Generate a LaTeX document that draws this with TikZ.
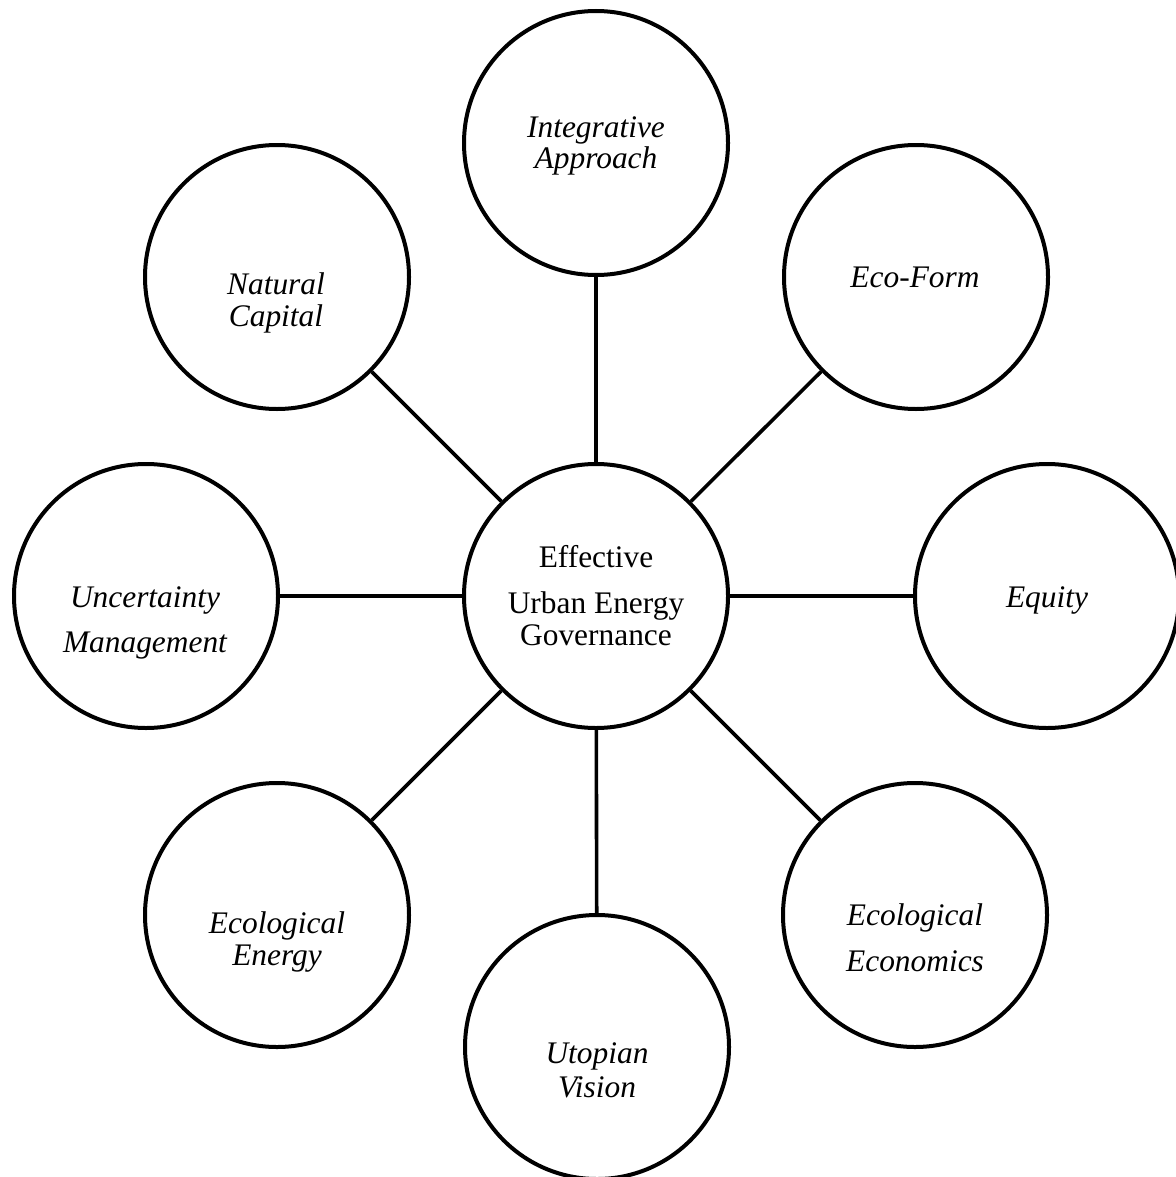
\documentclass[tikz,border=0pt]{standalone}
\usepackage{fontspec}
\setmainfont{Liberation Serif}
\tikzset{
  hub/.style={circle, draw, line width=2pt, minimum size=132pt, inner sep=0pt},
  lab/.style={anchor=base, inner sep=0pt, font=\fontsize{15.7pt}{16pt}\selectfont\itshape},
  mainlab/.style={anchor=base, inner sep=0pt, font=\fontsize{15.7pt}{16pt}\selectfont},
  link/.style={line width=1.8pt}
}
\newcommand{\twoline}[3][0pt]{\begin{tabular}[b]{@{}c@{}}#2\\[#1]#3\end{tabular}}
\begin{document}
\begin{tikzpicture}[x=0.5pt,y=-0.5pt]
\useasboundingbox (0,0) rectangle (1176,1177);
\clip (0,0) rectangle (1176,1177);
% circles
\node[hub] (c)  at (596,596) {};
\node[hub] (n)  at (596,143) {};
\node[hub] (ne) at (916,277) {};
\node[hub] (e)  at (1047,596) {};
\node[hub] (se) at (915,915) {};
\node[hub] (s)  at (597,1047) {};
\node[hub] (sw) at (277,915) {};
\node[hub] (w)  at (146,596) {};
\node[hub] (nw) at (277,277) {};
% connectors
\foreach \k in {n,ne,e,se,s,sw,w,nw} \draw[link] (c) -- (\k);
% labels
\node[mainlab] (tc) at (596,645) {\begin{tabular}[b]{@{}c@{}}Effective\\[7pt]Urban Energy\\Governance\end{tabular}};
\node[lab] (tn)  at (596,169)  {\twoline{Integrative}{Approach}};
\node[lab] (tne) at (915,287)  {Eco-Form};
\node[lab] (te)  at (1047,607) {Equity};
\node[lab] (tse) at (915,971)  {\twoline[7pt]{Ecological}{Economics}};
\node[lab] (ts)  at (597,1097) {\twoline[1pt]{Utopian}{Vision}};
\node[lab] (tsw) at (277,965)  {\twoline{Ecological}{Energy}};
\node[lab] (tw)  at (145,652)  {\twoline[6.5pt]{Uncertainty}{Management}};
\node[lab] (tnw) at (276,326)  {\twoline{Natural}{Capital}};
\end{tikzpicture}
\end{document}
